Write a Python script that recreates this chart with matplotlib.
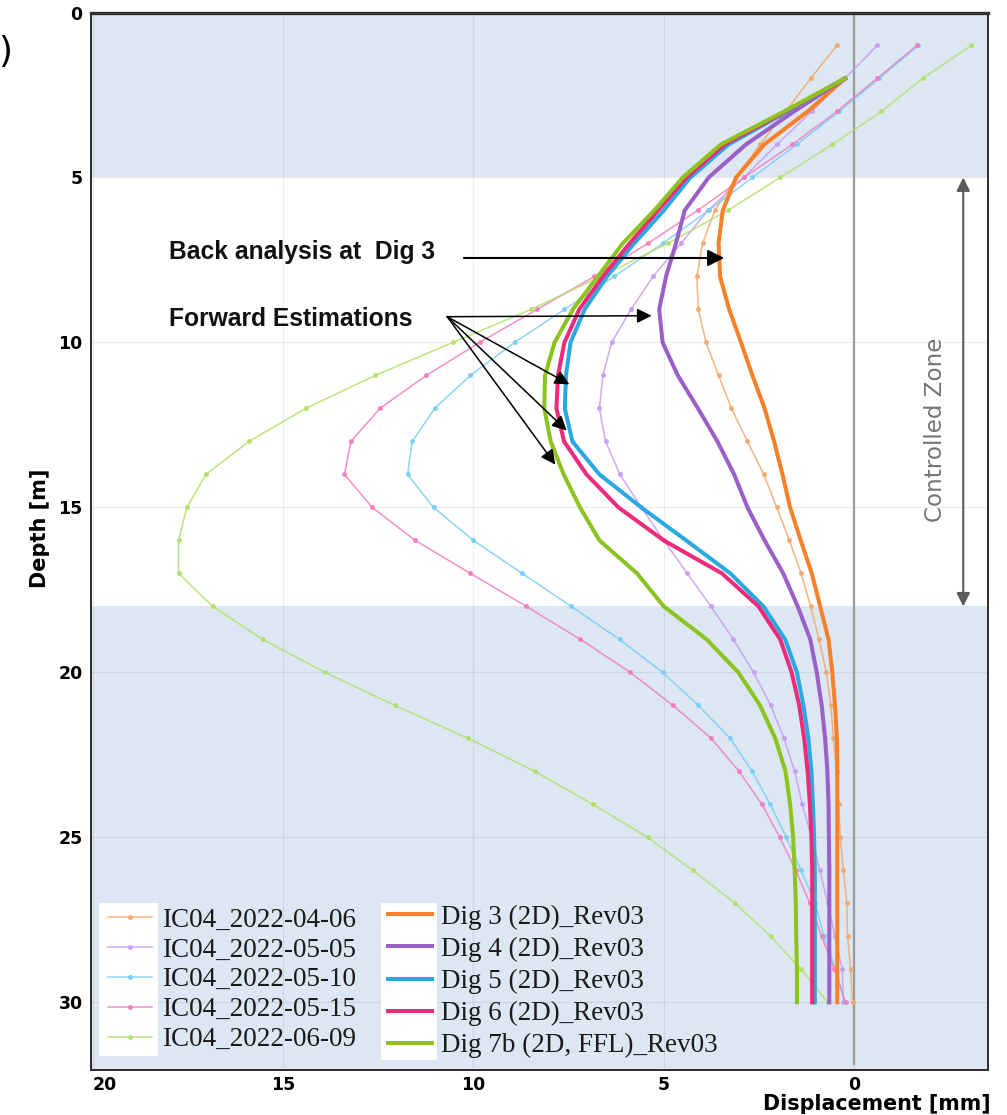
import matplotlib
matplotlib.use('Agg')
import matplotlib.pyplot as plt
from matplotlib.patches import Rectangle
from matplotlib.font_manager import FontProperties

# measured inclinometer profiles, depth 1..30 m
depth_meas = list(range(1, 31))
ic_0406 = [0.45, 1.14, 1.8, 2.47, 3.1, 3.66, 3.98, 4.13, 4.09, 3.89, 3.56, 3.22, 2.8, 2.37, 2.03,
           1.7, 1.39, 1.14, 0.92, 0.73, 0.61, 0.54, 0.46, 0.4, 0.36, 0.28, 0.19, 0.17, 0.09, 0.04]
ic_0505 = [-0.61, 0.24, 1.11, 2.03, 2.89, 3.84, 4.55, 5.28, 5.86, 6.37, 6.6, 6.69, 6.53, 6.15, 5.59,
           5.0, 4.38, 3.76, 3.17, 2.64, 2.19, 1.84, 1.56, 1.36, 1.12, 0.9, 0.69, 0.5, 0.31, 0.28]
ic_0510 = [-1.69, -0.66, 0.39, 1.51, 2.67, 3.82, 5.03, 6.3, 7.61, 8.92, 10.08, 11.02, 11.61, 11.73, 11.05,
           10.0, 8.72, 7.43, 6.16, 5.03, 4.09, 3.25, 2.68, 2.2, 1.78, 1.39, 1.02, 0.79, 0.48, 0.24]
ic_0515 = [-1.65, -0.6, 0.45, 1.62, 2.89, 4.11, 5.42, 6.82, 8.33, 9.84, 11.24, 12.46, 13.22, 13.39, 12.66,
           11.53, 10.08, 8.61, 7.19, 5.88, 4.76, 3.75, 3.02, 2.42, 1.95, 1.53, 1.16, 0.85, 0.52, 0.22]
ic_0609 = [-3.08, -1.8, -0.72, 0.57, 1.94, 3.32, 4.9, 6.65, 8.49, 10.54, 12.58, 14.41, 15.9, 17.03, 17.53,
           17.75, 17.75, 16.85, 15.54, 13.9, 12.07, 10.14, 8.39, 6.86, 5.42, 4.24, 3.12, 2.19, 1.39, 0.69]

# model predictions, depth 2..30 m
depth_model = list(range(2, 31))
dig3 = [0.24, 1.22, 2.36, 3.1, 3.45, 3.56, 3.52, 3.28, 2.97, 2.67, 2.35, 2.1, 1.88, 1.68, 1.4,
        1.11, 0.89, 0.67, 0.57, 0.5, 0.45, 0.44, 0.44, 0.44, 0.44, 0.44, 0.44, 0.44, 0.44]
dig4 = [0.24, 1.58, 2.84, 3.82, 4.45, 4.68, 4.94, 5.12, 5.03, 4.63, 4.1, 3.59, 3.15, 2.8, 2.35,
        1.86, 1.48, 1.15, 0.98, 0.85, 0.76, 0.7, 0.67, 0.66, 0.65, 0.65, 0.65, 0.65, 0.65]
dig5 = [0.24, 1.75, 3.3, 4.3, 5.0, 5.78, 6.49, 7.08, 7.45, 7.57, 7.6, 7.4, 6.69, 5.59, 4.41,
        3.25, 2.38, 1.81, 1.5, 1.33, 1.2, 1.12, 1.08, 1.05, 1.03, 1.03, 1.03, 1.03, 1.03]
dig6 = [0.24, 1.8, 3.4, 4.4, 5.15, 5.9, 6.6, 7.22, 7.61, 7.78, 7.82, 7.62, 7.03, 6.19, 5.0,
        3.47, 2.51, 1.94, 1.64, 1.44, 1.31, 1.22, 1.16, 1.12, 1.1, 1.1, 1.1, 1.1, 1.1]
dig7b = [0.24, 1.84, 3.5, 4.5, 5.25, 6.08, 6.73, 7.39, 7.87, 8.12, 8.14, 7.97, 7.63, 7.2, 6.69,
         5.7, 5.0, 3.87, 3.04, 2.47, 2.07, 1.8, 1.68, 1.6, 1.56, 1.53, 1.52, 1.5, 1.5]

meas_labels = ['IC04_2022-04-06', 'IC04_2022-05-05', 'IC04_2022-05-10', 'IC04_2022-05-15', 'IC04_2022-06-09']
meas_colors = ['#f3a66c', '#c79cf0', '#78cdf3', '#f27cbd', '#b3df66']
model_labels = ['Dig 3 (2D)_Rev03', 'Dig 4 (2D)_Rev03', 'Dig 5 (2D)_Rev03', 'Dig 6 (2D)_Rev03',
                'Dig 7b (2D, FFL)_Rev03']
model_colors = ['#f7812a', '#9b5fc8', '#2aa9e0', '#ee2a7b', '#8dc21f']

xticks = [20, 15, 10, 5, 0]
yticks = [0, 5, 10, 15, 20, 25, 30]

fig = plt.figure(figsize=(10.07, 11.15), dpi=100)
ax = fig.add_axes([91 / 1007, 1 - 1070 / 1115, 897 / 1007, 1057.5 / 1115])
ax.set_xlim(20.05, -3.52)
ax.set_ylim(32.05, 0)

band = '#dce7f3'
ax.axhspan(0, 5, color=band, lw=0, zorder=0)
ax.axhspan(18, 32.05, color=band, lw=0, zorder=0)
ax.grid(True, color='k', alpha=0.07, lw=0.9)
ax.set_axisbelow(True)
ax.axvline(0, color='#9a9a9a', lw=1.6, ymin=0.006, zorder=1.5)

thin = []
for vals, c, lab in zip([ic_0406, ic_0505, ic_0510, ic_0515, ic_0609], meas_colors, meas_labels):
    h, = ax.plot(vals, depth_meas, color=c, lw=1.1, marker='o', ms=2.6, alpha=0.85, zorder=2, label=lab)
    thin.append(h)
thick = []
for vals, c, lab in zip([dig3, dig4, dig5, dig6, dig7b], model_colors, model_labels):
    h, = ax.plot(vals, depth_model, color=c, lw=2.9, zorder=3, label=lab)
    thick.append(h)

# annotations
tfont = dict(family=['Liberation Sans', 'DejaVu Sans'], fontsize=17.7, fontweight='bold', color='#111111')
ax.text(18.0, 7.25, 'Back analysis at  Dig 3', ha='left', va='center', **tfont)
ax.text(18.0, 9.3, 'Forward Estimations', ha='left', va='center', **tfont)
ax.annotate('', xy=(3.41, 7.44), xytext=(10.25, 7.44),
            arrowprops=dict(arrowstyle='-|>', color='black', lw=1.5, mutation_scale=25,
                            shrinkA=0, shrinkB=0))
for tx, ty in [(5.32, 9.19), (7.48, 11.27), (7.55, 12.67), (7.85, 13.7)]:
    ax.annotate('', xy=(tx, ty), xytext=(10.69, 9.22),
                arrowprops=dict(arrowstyle='-|>', color='black', lw=1.1, mutation_scale=22,
                                shrinkA=0, shrinkB=0))

ax.annotate('', xy=(-2.87, 5.0), xytext=(-2.87, 18.0),
            arrowprops=dict(arrowstyle='<|-|>', color='#5a5a5a', lw=1.5, mutation_scale=20,
                            shrinkA=0, shrinkB=0))
ax.text(-2.13, 12.65, 'Controlled Zone', rotation=90, ha='center', va='center',
        fontsize=16.6, color='#757575')

# legends
lfont = FontProperties(family='Liberation Serif', size=19.5)
ax.add_patch(Rectangle((0.0089, 0.0132), 0.0658, 0.1446, transform=ax.transAxes,
                       facecolor='white', edgecolor='none', zorder=4))
ax.add_patch(Rectangle((0.3233, 0.0095), 0.0624, 0.148, transform=ax.transAxes,
                       facecolor='white', edgecolor='none', zorder=4))
leg1 = ax.legend(handles=thin, loc='lower left', bbox_to_anchor=(0.019, 0.017), frameon=False,
                 prop=lfont, handlelength=1.63, handletextpad=0.37, labelspacing=0.18,
                 borderpad=0, borderaxespad=0, labelcolor='#1a1a1a')
ax.add_artist(leg1)
ax.legend(handles=thick, loc='lower left', bbox_to_anchor=(0.331, 0.011), frameon=False,
          prop=lfont, handlelength=1.63, handletextpad=0.33, labelspacing=0.26,
          borderpad=0, borderaxespad=0, labelcolor='#1a1a1a')

# axes styling
ax.set_xticks(xticks)
ax.set_xticklabels([str(v) for v in xticks], fontweight='bold', fontsize=12.5)
ax.get_xticklabels()[0].set_ha('left')
ax.set_yticks(yticks)
ax.set_yticklabels([str(v) for v in yticks], fontweight='bold', fontsize=12.5)
ax.tick_params(axis='both', length=0)
ax.tick_params(axis='x', pad=4)
ax.tick_params(axis='y', pad=6)
for side in ['left', 'bottom', 'right']:
    ax.spines[side].set_color('#2b2b2b')
    ax.spines[side].set_linewidth(1.4)
ax.spines['top'].set_color('#333333')
ax.spines['top'].set_linewidth(2.4)

ax.set_xlabel('Displacement [mm]', fontweight='bold', fontsize=14.9, loc='right')
ax.xaxis.set_label_coords(1.003, -0.0225)
ax.set_ylabel('Depth [m]', fontweight='bold', fontsize=15)
ax.yaxis.set_label_coords(-0.0457, 0.512)

fig.text(0.012, 1 - 52 / 1115, ')', ha='right', va='center', fontsize=26)

fig.savefig('out.png', dpi=100)
